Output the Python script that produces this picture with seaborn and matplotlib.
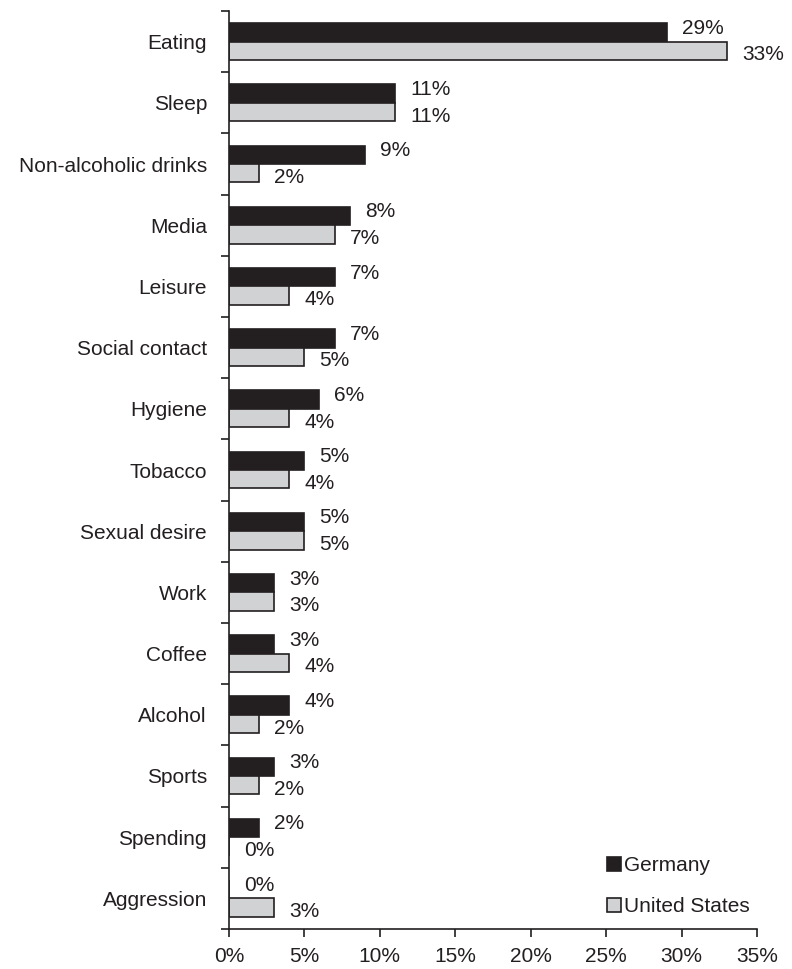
import numpy as np
import pandas as pd
import matplotlib
matplotlib.use("Agg")
import matplotlib.pyplot as plt
import seaborn as sns
from matplotlib.ticker import FuncFormatter

categories = ["Eating", "Sleep", "Non-alcoholic drinks", "Media", "Leisure",
              "Social contact", "Hygiene", "Tobacco", "Sexual desire", "Work",
              "Coffee", "Alcohol", "Sports", "Spending", "Aggression"]
germany = [29, 11, 9, 8, 7, 7, 6, 5, 5, 3, 3, 4, 3, 2, 0]
united_states = [33, 11, 2, 7, 4, 5, 4, 4, 5, 3, 4, 2, 2, 0, 3]
series_names = ["Germany", "United States"]
x_ticks = [0, 5, 10, 15, 20, 25, 30, 35]

df = pd.DataFrame({
    "Category": categories * 2,
    "Value": germany + united_states,
    "Country": [series_names[0]] * len(categories) + [series_names[1]] * len(categories),
})

sns.set_theme(style="white")
plt.rcParams["font.family"] = ["Liberation Sans", "DejaVu Sans"]
FS = 15

fig = plt.figure(figsize=(7.92, 9.69), dpi=100)
ax = fig.add_axes([0.289, 0.0413, 0.667, 0.9473])

palette = {"Germany": "#231f20", "United States": "#d1d2d4"}
sns.barplot(data=df, y="Category", x="Value", hue="Country", order=categories,
            hue_order=series_names, palette=palette, orient="h", width=0.6,
            edgecolor="#231f20", linewidth=1.2, saturation=1, ax=ax, legend=True)

ax.set_xlim(0, 35)
ax.set_ylim(len(categories) - 0.5, -0.5)
ax.set_xticks(x_ticks)
ax.xaxis.set_major_formatter(FuncFormatter(lambda v, p: f"{int(v)}%"))
ax.set_xlabel("")
ax.set_ylabel("")

# category boundary ticks (major) and label positions (minor)
ax.set_yticks(np.arange(-0.5, len(categories), 1.0))
ax.set_yticklabels([])
ax.set_yticks(np.arange(len(categories)), minor=True)
ax.set_yticklabels(categories, minor=True)
ax.tick_params(axis="y", which="major", direction="out", length=6, width=1.2,
               color="#231f20", left=True)
ax.tick_params(axis="y", which="minor", length=0, pad=15.8, labelsize=FS,
               labelcolor="#231f20")
ax.tick_params(axis="x", which="major", direction="out", length=6, width=1.2,
               color="#231f20", bottom=True, pad=7, labelsize=FS,
               labelcolor="#231f20")

for s in ["top", "right"]:
    ax.spines[s].set_visible(False)
for s in ["left", "bottom"]:
    ax.spines[s].set_color("#231f20")
    ax.spines[s].set_linewidth(1.2)
ax.grid(False)

# value labels
shifts = [3.0, -3.0]
for ci, cont in enumerate(ax.containers[:2]):
    for rect in cont:
        w = rect.get_width()
        yc = rect.get_y() + rect.get_height() / 2
        ax.annotate(f"{int(round(w))}%", xy=(w, yc), xytext=(10.8, shifts[ci]),
                    textcoords="offset points", ha="left", va="center",
                    fontsize=FS, color="#231f20")

handles, labels = ax.get_legend_handles_labels()
ax.legend(handles, labels, loc="lower left", bbox_to_anchor=(0.716, 0.014),
          frameon=False, borderaxespad=0, borderpad=0, handlelength=0.68,
          handleheight=0.68, handletextpad=0.12, labelspacing=1.05, fontsize=FS,
          labelcolor="#231f20")

fig.savefig("out.png", dpi=100)
